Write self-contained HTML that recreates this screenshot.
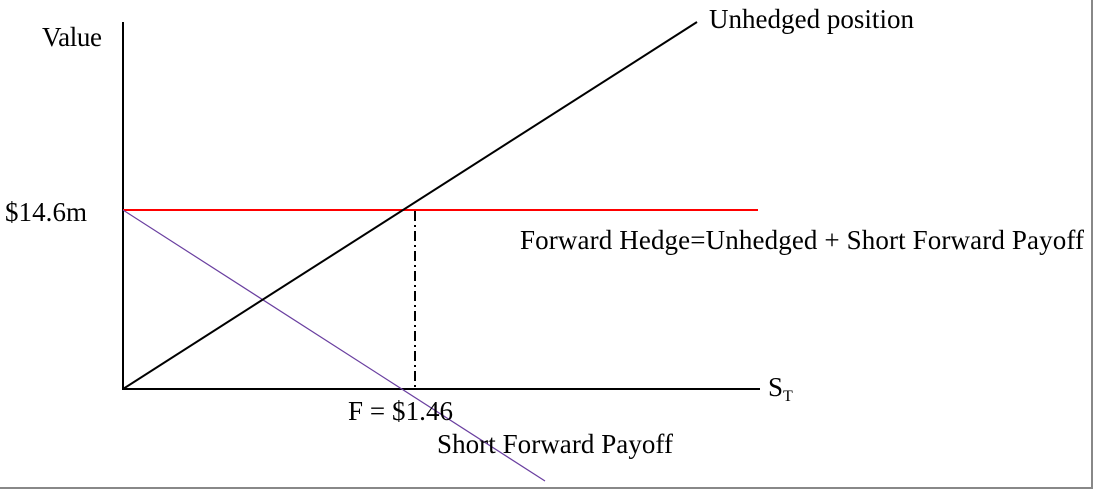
<!DOCTYPE html>
<html><head><style>
html,body{margin:0;padding:0;background:#fff;}
svg{display:block;}
text{font-family:"Liberation Serif",serif;font-size:27px;fill:#000;}
</style></head><body>
<svg width="1093" height="489" viewBox="0 0 1093 489" xmlns="http://www.w3.org/2000/svg">
<rect x="0" y="0" width="1093" height="489" fill="#fff"/>
<line x1="1092" y1="0" x2="1092" y2="489" stroke="#888" stroke-width="2"/>
<line x1="0" y1="488" x2="1093" y2="488" stroke="#888" stroke-width="2"/>
<line x1="123" y1="22" x2="123" y2="390" stroke="#000" stroke-width="2"/>
<line x1="122" y1="389" x2="760" y2="389" stroke="#000" stroke-width="2"/>
<line x1="123" y1="210" x2="758" y2="210" stroke="#f00" stroke-width="2"/>
<line x1="415" y1="211" x2="415" y2="389" stroke="#000" stroke-width="2" stroke-dasharray="10,4,2,4"/>
<line x1="123" y1="210" x2="545" y2="481" stroke="#6a3fa0" stroke-width="1.2"/>
<line x1="123" y1="389" x2="697" y2="22" stroke="#000" stroke-width="2"/>
<text x="42" y="46" textLength="60">Value</text>
<text x="5" y="221" textLength="82">$14.6m</text>
<text x="709" y="28" textLength="205">Unhedged position</text>
<text x="520" y="249" textLength="564">Forward Hedge=Unhedged + Short Forward Payoff</text>
<text x="768" y="396">S<tspan font-size="16" dy="5">T</tspan></text>
<text x="348" y="420" textLength="105">F = $1.46</text>
<text x="437" y="453" textLength="236">Short Forward Payoff</text>
</svg>
</body></html>
